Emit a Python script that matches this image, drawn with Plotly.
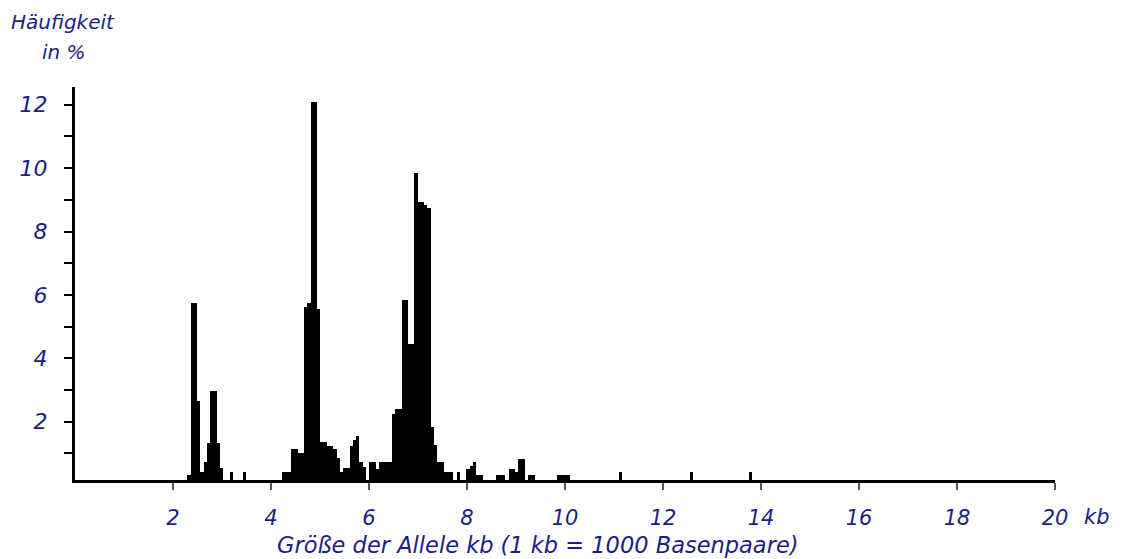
import plotly.graph_objects as go

# Histogram of allele sizes: bin centres (kb) and frequency (%)
BIN_WIDTH_KB = 0.0675
size_kb = [2.328, 2.394, 2.460, 2.527, 2.593, 2.659, 2.725, 2.791, 2.858, 2.924, 2.990,
           3.189, 3.453,
           4.248, 4.314, 4.380, 4.446, 4.513, 4.579, 4.645, 4.711, 4.777, 4.843, 4.910,
           4.976, 5.042, 5.108, 5.174, 5.240, 5.307, 5.373, 5.439, 5.505, 5.571, 5.638,
           5.704, 5.770, 5.836, 5.902,
           6.035, 6.101, 6.167, 6.233, 6.300, 6.366, 6.432, 6.498, 6.564, 6.630, 6.697,
           6.763, 6.829, 6.895, 6.961, 7.028, 7.094, 7.160, 7.226, 7.292, 7.358, 7.425,
           7.491, 7.557, 7.623, 7.689, 7.822,
           8.020, 8.087, 8.153, 8.219, 8.285, 8.616, 8.682, 8.748, 8.881, 8.947, 9.013,
           9.079, 9.146, 9.278, 9.344, 9.874, 9.940, 10.006, 10.072,
           11.131, 12.587, 13.779]
freq_pct = [0.32, 5.75, 5.75, 2.65, 0.42, 0.74, 1.33, 2.97, 2.97, 1.33, 0.53,
            0.42, 0.42,
            0.40, 0.40, 0.40, 1.14, 1.14, 1.00, 1.00, 5.62, 5.73, 12.1, 12.1,
            5.55, 1.35, 1.35, 1.24, 1.24, 1.14, 0.84, 0.42, 0.53, 0.53, 1.24,
            1.42, 1.55, 0.74, 0.58,
            0.74, 0.74, 0.50, 0.74, 0.74, 0.74, 0.74, 2.24, 2.39, 2.39, 5.84,
            5.84, 4.44, 4.44, 9.85, 8.94, 8.94, 8.85, 8.75, 1.84, 1.26, 0.74,
            0.74, 0.42, 0.42, 0.42, 0.42,
            0.50, 0.61, 0.74, 0.32, 0.32, 0.32, 0.32, 0.32, 0.50, 0.50, 0.42,
            0.82, 0.82, 0.32, 0.32, 0.32, 0.32, 0.32, 0.32,
            0.40, 0.40, 0.40]

x_ticks = [2, 4, 6, 8, 10, 12, 14, 16, 18, 20]
y_ticks = [2, 4, 6, 8, 10, 12]

TXT = "#1e1e82"
FONT = "DejaVu Sans"

fig = go.Figure(go.Bar(
    x=size_kb, y=freq_pct, width=BIN_WIDTH_KB,
    marker=dict(color="black", line=dict(width=0)),
))

fig.update_layout(
    width=1116, height=551,
    margin=dict(l=64, r=69, t=79, b=79),
    paper_bgcolor="white", plot_bgcolor="white",
    showlegend=False, bargap=0,
    font=dict(family=FONT, color=TXT, size=20, style="italic"),
    xaxis=dict(
        range=[0, 20], tickvals=x_ticks, ticktext=[str(v) for v in x_ticks],
        showline=True, linecolor="black", linewidth=3,
        ticks="outside", ticklen=7, tickwidth=2, tickcolor="#555555",
        showgrid=False, zeroline=False, ticklabelstandoff=10,
        tickfont=dict(family=FONT, size=21, color=TXT, style="italic"),
    ),
    yaxis=dict(
        range=[0.16, 12.56], tickvals=y_ticks, ticktext=[str(v) for v in y_ticks],
        showline=True, linecolor="black", linewidth=3,
        ticks="outside", ticklen=8, tickwidth=2, tickcolor="black",
        minor=dict(tickvals=[1, 3, 5, 7, 9, 11], ticks="outside", ticklen=8,
                   tickwidth=2, tickcolor="black"),
        showgrid=False, zeroline=False, ticklabelstandoff=12,
        tickfont=dict(family=FONT, size=22, color=TXT, style="italic"),
    ),
    annotations=[
        dict(text="Häufigkeit", xref="paper", yref="paper",
             x=0, y=1, xshift=-12, yshift=65, xanchor="center", yanchor="middle",
             showarrow=False,
             font=dict(family=FONT, size=20, color=TXT, style="italic")),
        dict(text="in %", xref="paper", yref="paper",
             x=0, y=1, xshift=-11, yshift=35, xanchor="center", yanchor="middle",
             showarrow=False,
             font=dict(family=FONT, size=20, color=TXT, style="italic")),
        dict(text="kb", xref="paper", yref="paper", x=1.0, y=0, xshift=42, yshift=-37,
             xanchor="center", yanchor="middle", showarrow=False,
             font=dict(family=FONT, size=21, color=TXT, style="italic")),
        dict(text="Größe der Allele kb (1 kb = 1000 Basenpaare)", xref="paper", yref="paper",
             x=0, y=0, xshift=463, yshift=-65, xanchor="center", yanchor="middle",
             showarrow=False,
             font=dict(family=FONT, size=22.5, color=TXT, style="italic")),
    ],
)

fig.write_html("out.html")
